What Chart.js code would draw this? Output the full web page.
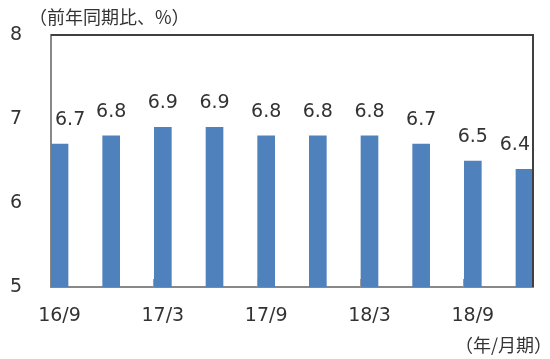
<!DOCTYPE html>
<html>
<head>
<meta charset="utf-8">
<script src="https://cdn.jsdelivr.net/npm/chart.js@4"></script>
<style>
  html, body { margin: 0; padding: 0; background: #fff; }
  #wrap { width: 550px; height: 359px; }
</style>
</head>
<body>
<div id="wrap"><canvas id="chart" width="550" height="359"></canvas></div>
<script>
// データ（前年同期比、%）
const periods = ['16/9', '16/12', '17/3', '17/6', '17/9', '17/12', '18/3', '18/6', '18/9', '18/12'];
const growth = [6.7, 6.8, 6.9, 6.9, 6.8, 6.8, 6.8, 6.7, 6.5, 6.4];
const xTickIdx = [0, 2, 4, 6, 8];
const yTicks = [5, 6, 7, 8];

const numFont = '"DejaVu Sans", sans-serif';
const cjkFont = '"Noto Sans CJK JP", sans-serif';

// 枠線・ラベル・注記を描く
const extras = {
    id: 'extras',
    afterDatasetsDraw(chart) {
        const { ctx, chartArea: a } = chart;
        const meta = chart.getDatasetMeta(0);
        ctx.save();

        // 上・右の枠
        ctx.strokeStyle = '#404040';
        ctx.lineWidth = 2;
        ctx.beginPath();
        ctx.moveTo(a.left, a.top);
        ctx.lineTo(a.right, a.top);
        ctx.lineTo(a.right, a.bottom);
        ctx.stroke();

        // 下の目盛り
        ctx.strokeStyle = '#999';
        ctx.lineWidth = 1;
        xTickIdx.slice(1).forEach(i => {
            const bar = meta.data[i];
            const x = Math.round(bar.x - bar.width / 2) - 0.5;
            ctx.beginPath();
            ctx.moveTo(x, a.bottom);
            ctx.lineTo(x, a.bottom - 8);
            ctx.stroke();
        });

        // 値ラベル
        ctx.fillStyle = '#333';
        ctx.font = '19px ' + numFont;
        ctx.textAlign = 'center';
        ctx.textBaseline = 'middle';
        meta.data.forEach((bar, i) => {
            const txt = growth[i].toFixed(1);
            const w = ctx.measureText(txt).width;
            let x = bar.x;
            x = Math.max(x, a.left + 4 + w / 2);
            x = Math.min(x, a.right - 3 - w / 2);
            ctx.fillText(txt, x, bar.y - 24);
        });

        // 単位
        ctx.font = '18px ' + cjkFont;
        ctx.textAlign = 'left';
        ctx.fillText('（前年同期比、%）', 29, 17);
        ctx.textAlign = 'right';
        ctx.fillText('（年/月期）', 552, 345);
        ctx.restore();
    }
};

new Chart(document.getElementById('chart').getContext('2d'), {
    type: 'bar',
    data: {
        datasets: [{
            data: growth.map((v, i) => ({ x: i, y: v })),
            backgroundColor: '#4f81bd',
            barThickness: 17
        }]
    },
    options: {
        responsive: false,
        animation: false,
        layout: { padding: { top: 35, right: 17, left: 0, bottom: 0 } },
        plugins: { legend: { display: false }, tooltip: { enabled: false } },
        scales: {
            x: {
                type: 'linear',
                offset: false,
                min: -0.165,
                max: 9.165,
                grid: { display: false, drawTicks: false },
                border: { color: '#888', width: 2 },
                afterBuildTicks: s => { s.ticks = xTickIdx.map(v => ({ value: v })); },
                afterFit: s => { s.height = 72; s.paddingLeft = 0; s.paddingRight = 0; },
                ticks: {
                    autoSkip: false,
                    maxRotation: 0,
                    padding: 18,
                    color: '#333',
                    font: { family: numFont, size: 19 },
                    callback: v => periods[v]
                }
            },
            y: {
                min: 5,
                max: 8,
                grid: { display: false, drawTicks: false },
                border: { color: '#888', width: 2 },
                afterBuildTicks: s => { s.ticks = yTicks.map(v => ({ value: v })); },
                afterFit: s => { s.width = 51; s.paddingTop = 0; s.paddingBottom = 0; },
                ticks: {
                    padding: 29,
                    color: '#333',
                    font: { family: numFont, size: 19 }
                }
            }
        }
    },
    plugins: [extras]
});
</script>
</body>
</html>
